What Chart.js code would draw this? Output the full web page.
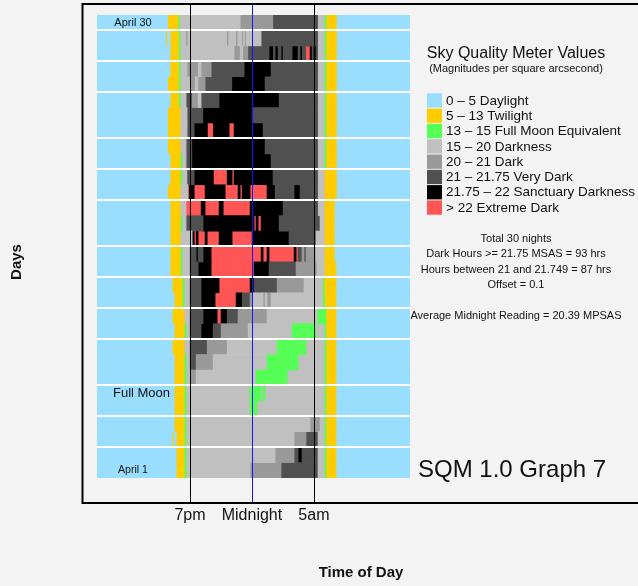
<!DOCTYPE html>
<html>
<head>
<meta charset="utf-8">
<title>SQM 1.0 Graph 7</title>
<script src="https://cdn.jsdelivr.net/npm/chart.js@4.4.1/dist/chart.umd.min.js"></script>
<style>
  html, body { margin: 0; padding: 0; background: #f3f3f3; }
  #wrap { width: 638px; height: 586px; position: relative; }
</style>
</head>
<body>
<div id="wrap"><canvas id="sqm" width="638" height="586"></canvas></div>
<script>
// Time axis in clock hours (24 = midnight, 30 = 6am next morning)
const X_MIN = 11.5;
const X_MAX = 36.75;

// Sky brightness classes (magnitudes per square arcsecond)
const levelNames = [
  '0 \u2013 5 Daylight',
  '5 \u2013 13 Twilight',
  '13 \u2013 15 Full Moon Equivalent',
  '15 \u2013 20 Darkness',
  '20 \u2013 21 Dark',
  '21 \u2013 21.75 Very Dark',
  '21.75 \u2013 22 Sanctuary Darkness',
  '> 22 Extreme Dark'
];
const levelColors = ['#99DDFF', '#FFCC00', '#55FF55', '#C0C0C0', '#999999', '#505050', '#000000', '#FF5555'];

const nights = [
  'April 1', 'April 2', 'April 3', 'April 4', 'April 5', 'April 6', 'April 7', 'April 8',
  'April 9', 'April 10', 'April 11', 'April 12', 'April 13', 'April 14', 'April 15',
  'April 16', 'April 17', 'April 18', 'April 19', 'April 20', 'April 21', 'April 22',
  'April 23', 'April 24', 'April 25', 'April 26', 'April 27', 'April 28', 'April 29', 'April 30'
];

// For each night: [hour at which a class begins, class index]; each class lasts until the next entry
const readings = [
  /* April 1 */  [[11.5,0],[17.89,1],[18.53,2],[18.69,3],[23.85,4],[26.35,5],[29.33,3],[29.89,2],[30.03,1],[30.84,0]],
  /* April 2 */  [[11.5,0],[17.89,1],[18.53,2],[18.69,3],[25.87,4],[27.40,5],[27.72,6],[28.04,5],[29.33,3],[29.89,2],[30.03,1],[30.84,0]],
  /* April 3 */  [[11.5,0],[17.57,1],[17.73,0],[17.89,1],[18.53,2],[18.69,3],[27.40,4],[28.36,5],[29.33,3],[29.89,2],[30.03,1],[30.84,0]],
  /* April 4 */  [[11.5,0],[17.73,1],[18.53,2],[18.69,3],[28.69,4],[29.49,3],[29.89,2],[30.03,1],[30.84,0]],
  /* April 5 */  [[11.5,0],[17.73,1],[18.53,2],[18.69,3],[23.85,2],[24.41,3],[29.89,2],[30.03,1],[30.84,0]],
  /* April 6 */  [[11.5,0],[17.73,1],[18.53,2],[18.69,3],[23.85,2],[24.74,3],[24.90,2],[25.06,3],[29.89,2],[30.03,1],[30.84,0]],
  /* April 7 */  [[11.5,0],[17.73,1],[18.53,2],[18.69,3],[18.98,4],[19.50,3],[24.33,2],[26.83,3],[29.89,2],[30.03,1],[30.84,0]],
  /* April 8 */  [[11.5,0],[17.73,1],[18.53,2],[18.69,3],[18.96,5],[19.50,4],[20.87,3],[25.22,2],[27.72,3],[29.89,2],[30.03,1],[30.84,0]],
  /* April 9 */  [[11.5,0],[17.57,1],[18.53,3],[18.96,5],[20.39,4],[22.00,3],[26.03,2],[28.36,3],[29.89,2],[30.03,1],[30.84,0]],
  /* April 10 */ [[11.5,0],[17.73,1],[18.53,2],[18.69,3],[18.96,5],[19.90,6],[20.87,5],[21.51,4],[23.69,3],[27.24,2],[29.17,3],[29.89,2],[30.03,1],[30.84,0]],
  /* April 11 */ [[11.5,0],[17.57,1],[18.53,3],[18.96,5],[20.06,6],[21.19,7],[21.51,6],[22.00,5],[22.88,4],[25.22,3],[29.33,2],[30.03,1],[30.84,0]],
  /* April 12 */ [[11.5,0],[17.73,1],[18.37,2],[18.53,3],[18.96,5],[19.90,6],[21.03,7],[22.72,6],[23.21,5],[23.85,4],[24.09,3],[24.90,4],[25.06,3],[25.22,4],[25.54,3],[29.76,2],[29.92,1],[30.84,0]],
  /* April 13 */ [[11.5,0],[17.57,1],[18.37,2],[18.53,3],[18.96,5],[19.90,6],[21.35,7],[23.85,6],[24.17,5],[26.03,4],[28.20,3],[29.76,2],[29.89,1],[30.84,0]],
  /* April 14 */ [[11.5,0],[17.40,1],[18.21,2],[18.35,3],[18.96,5],[19.66,6],[20.71,7],[24.17,6],[25.38,5],[27.56,4],[29.25,3],[29.89,1],[30.84,0]],
  /* April 15 */ [[11.5,0],[17.40,1],[18.21,2],[18.35,3],[18.96,5],[19.50,6],[19.66,5],[20.06,6],[20.71,7],[24.74,6],[24.90,7],[25.22,6],[25.38,7],[27.40,6],[27.56,7],[27.72,5],[28.04,4],[28.20,5],[28.36,4],[29.17,3],[29.89,1],[30.70,0]],
  /* April 16 */ [[11.5,0],[17.40,1],[18.21,3],[19.18,6],[19.34,7],[19.50,6],[19.66,7],[20.22,6],[20.39,7],[21.35,6],[22.40,7],[24.01,6],[26.99,5],[29.17,3],[29.89,1],[30.70,0]],
  /* April 17 */ [[11.5,0],[17.40,1],[18.21,2],[18.35,3],[18.69,5],[20.06,6],[24.17,7],[24.33,6],[24.50,7],[24.74,6],[26.19,5],[29.49,3],[29.89,1],[30.70,0]],
  /* April 18 */ [[11.5,0],[17.40,1],[18.21,3],[18.69,7],[19.90,6],[20.22,7],[21.35,6],[21.68,7],[23.85,6],[26.51,5],[29.35,3],[29.89,1],[30.70,0]],
  /* April 19 */ [[11.5,0],[17.19,1],[18.21,3],[18.83,7],[18.94,6],[19.34,7],[20.22,6],[21.84,7],[22.88,6],[23.05,7],[23.21,6],[23.85,7],[25.22,6],[25.87,5],[27.40,6],[27.88,5],[29.35,3],[29.89,1],[30.87,0]],
  /* April 20 */ [[11.5,0],[17.40,1],[18.21,2],[18.35,3],[18.75,5],[19.34,6],[20.89,7],[22.00,6],[22.40,7],[22.56,6],[25.70,5],[29.35,3],[29.89,1],[30.87,0]],
  /* April 21 */ [[11.5,0],[17.40,1],[18.21,2],[18.35,3],[18.69,5],[19.15,6],[25.54,5],[29.35,3],[29.89,2],[30.03,1],[30.87,0]],
  /* April 22 */ [[11.5,0],[17.19,1],[18.21,3],[18.69,5],[19.15,6],[25.06,5],[29.35,3],[29.89,2],[30.03,1],[30.87,0]],
  /* April 23 */ [[11.5,0],[17.19,1],[18.21,3],[18.77,5],[19.34,6],[20.41,7],[20.89,6],[22.16,7],[22.56,6],[24.90,5],[29.35,3],[29.89,2],[30.03,1],[30.87,0]],
  /* April 24 */ [[11.5,0],[17.19,1],[18.21,3],[18.77,5],[20.04,6],[24.01,5],[29.35,3],[29.89,2],[30.03,1],[30.87,0]],
  /* April 25 */ [[11.5,0],[17.40,1],[18.07,2],[18.21,3],[18.69,5],[19.18,4],[19.66,3],[19.90,5],[21.35,6],[26.19,5],[29.35,3],[29.89,2],[30.03,1],[30.87,0]],
  /* April 26 */ [[11.5,0],[17.19,1],[18.07,2],[18.21,3],[19.02,4],[19.42,3],[19.64,4],[20.22,5],[22.38,6],[25.06,5],[29.35,3],[29.89,2],[30.03,1],[30.87,0]],
  /* April 27 */ [[11.5,0],[17.40,1],[18.07,2],[18.21,3],[18.77,4],[19.68,3],[19.90,4],[20.71,5],[23.37,6],[25.54,5],[29.35,3],[29.89,2],[30.03,1],[30.87,0]],
  /* April 28 */ [[11.5,0],[17.40,1],[18.07,2],[18.21,3],[22.56,4],[23.05,3],[23.26,4],[23.67,5],[25.38,6],[25.73,5],[25.87,6],[26.11,5],[26.35,6],[26.51,5],[27.24,6],[27.72,5],[27.88,6],[28.07,5],[28.34,7],[28.69,6],[28.85,5],[28.95,6],[29.17,5],[29.35,3],[29.89,2],[30.03,1],[30.87,0]],
  /* April 29 */ [[11.5,0],[17.03,1],[17.19,0],[17.40,1],[18.07,2],[18.21,3],[18.67,4],[18.83,3],[21.97,4],[22.13,3],[22.70,4],[22.86,3],[23.18,4],[23.31,3],[23.39,4],[23.53,3],[24.74,5],[29.35,3],[29.89,2],[30.03,1],[30.87,0]],
  /* April 30 */ [[11.5,0],[17.19,1],[18.03,2],[18.15,3],[23.05,4],[25.68,5],[29.35,3],[29.89,2],[30.03,1],[30.87,0]]
];

// Nights whose lower edge carries a white separator line
const separatorNights = ['April 3', 'April 5', 'April 7', 'April 10', 'April 12', 'April 14', 'April 16',
                         'April 19', 'April 21', 'April 23', 'April 26', 'April 28', 'April 30'];

// Reference times marked across the nights
const markerHours = [19, 24, 29];
const markerLabels = ['7pm', 'Midnight', '5am'];

// Notes written inside the night rows
const nightNotes = [['April 30', 'April 30'], ['April 6', 'Full Moon'], ['April 1', 'April 1']];

const legendTitle = 'Sky Quality Meter Values';
const legendSubtitle = '(Magnitudes per square arcsecond)';
const summaryLines = [
  'Total 30 nights',
  'Dark Hours >= 21.75 MSAS = 93 hrs',
  'Hours between 21 and 21.749 = 87 hrs',
  'Offset = 0.1',
  '',
  'Average Midnight Reading = 20.39 MPSAS'
];
const chartTitle = 'SQM 1.0 Graph 7';
const xTitle = 'Time of Day';
const yTitle = 'Days';

// One floating-bar dataset per brightness class
const datasets = levelNames.map((name, lvl) => ({
  label: name,
  backgroundColor: levelColors[lvl],
  borderWidth: 0,
  data: []
}));
readings.forEach((steps, n) => {
  steps.forEach(([start, lvl], k) => {
    const end = k + 1 < steps.length ? steps[k + 1][0] : X_MAX;
    datasets[lvl].data.push({ x: [start, end], y: nights[n] });
  });
});

const FONT = '"Liberation Sans", Arial, Helvetica, sans-serif';

const decorations = {
  id: 'decorations',
  beforeDraw(chart) {
    const ctx = chart.ctx;
    ctx.save();
    ctx.fillStyle = '#f3f3f3';
    ctx.fillRect(0, 0, chart.width, chart.height);
    ctx.restore();
  },
  afterDraw(chart) {
    const ctx = chart.ctx;
    const xs = chart.scales.x;
    const ys = chart.scales.y;
    const area = chart.chartArea;
    const frameTop = 4, frameBottom = 503, frameLeft = 82;
    ctx.save();

    // frame
    ctx.strokeStyle = '#000';
    ctx.lineWidth = 2;
    ctx.strokeRect(frameLeft + 0.5, frameTop, chart.width + 10, frameBottom - frameTop);

    // time markers
    const markerColors = ['#000000', '#1414ff', '#000000'];
    ctx.lineWidth = 1;
    markerHours.forEach((h, i) => {
      const px = Math.round(xs.getPixelForValue(h)) + 0.5;
      ctx.strokeStyle = markerColors[i];
      ctx.beginPath();
      ctx.moveTo(px, frameTop + 1);
      ctx.lineTo(px, frameBottom - 1);
      ctx.stroke();
    });

    // row notes
    ctx.fillStyle = '#111';
    ctx.textAlign = 'center';
    ctx.textBaseline = 'middle';
    const noteFonts = ['11px', '13px', '10.5px'];
    const noteX = [133, 141.5, 133];
    nightNotes.forEach(([night, text], i) => {
      ctx.font = noteFonts[i] + ' ' + FONT;
      ctx.fillText(text, noteX[i], ys.getPixelForValue(nights.indexOf(night)));
    });

    // legend
    const cx = 516;
    ctx.font = '16px ' + FONT;
    ctx.fillText(legendTitle, cx, 54);
    ctx.font = '11px ' + FONT;
    ctx.fillText(legendSubtitle, cx, 69);
    const lx = 427, ly = 93.3, rowH = 15.3;
    ctx.textAlign = 'left';
    ctx.font = '13.5px ' + FONT;
    chart.data.datasets.forEach((ds, i) => {
      ctx.fillStyle = ds.backgroundColor;
      ctx.fillRect(lx, ly + i * rowH, 15, rowH - 1);
      ctx.fillStyle = '#111';
      ctx.fillText(ds.label, 446, ly + i * rowH + rowH / 2);
    });

    // summary
    ctx.textAlign = 'center';
    ctx.font = '11px ' + FONT;
    summaryLines.forEach((t, i) => {
      if (t) ctx.fillText(t, cx, 239 + i * 15.3);
    });

    // graph title
    ctx.textAlign = 'left';
    ctx.font = '24px ' + FONT;
    ctx.fillText(chartTitle, 418, 470);

    // axis titles
    ctx.textAlign = 'center';
    ctx.font = 'bold 15px ' + FONT;
    ctx.fillText(xTitle, 361, 573);
    ctx.translate(17, 262);
    ctx.rotate(-Math.PI / 2);
    ctx.fillText(yTitle, 0, 0);
    ctx.restore();
  }
};

new Chart(document.getElementById('sqm'), {
  type: 'bar',
  data: { labels: nights, datasets },
  plugins: [decorations],
  options: {
    responsive: false,
    animation: false,
    indexAxis: 'y',
    grouped: false,
    barPercentage: 1,
    categoryPercentage: 1,
    layout: { padding: { left: 97, top: 15, right: 228, bottom: 58 } },
    plugins: { legend: { display: false }, tooltip: { enabled: false } },
    scales: {
      x: {
        type: 'linear',
        min: X_MIN,
        max: X_MAX,
        grid: { display: false, drawTicks: false },
        border: { display: false },
        afterFit(scale) { scale.height = 50; },
        afterBuildTicks(scale) { scale.ticks = markerHours.map(v => ({ value: v })); },
        ticks: {
          autoSkip: false,
          maxRotation: 0,
          padding: 28,
          color: '#111',
          font: { family: FONT, size: 16 },
          callback: (v, i) => markerLabels[i]
        }
      },
      y: {
        type: 'category',
        reverse: true,
        offset: true,
        afterFit(scale) { scale.width = 0; },
        ticks: { display: false },
        border: { display: false },
        grid: {
          offset: true,
          drawTicks: false,
          z: 1,
          lineWidth: 2,
          color: ctx => (ctx.index !== undefined && separatorNights.includes(nights[ctx.index])) ? '#ffffff' : 'rgba(0,0,0,0)'
        }
      }
    }
  }
});
</script>
</body>
</html>
